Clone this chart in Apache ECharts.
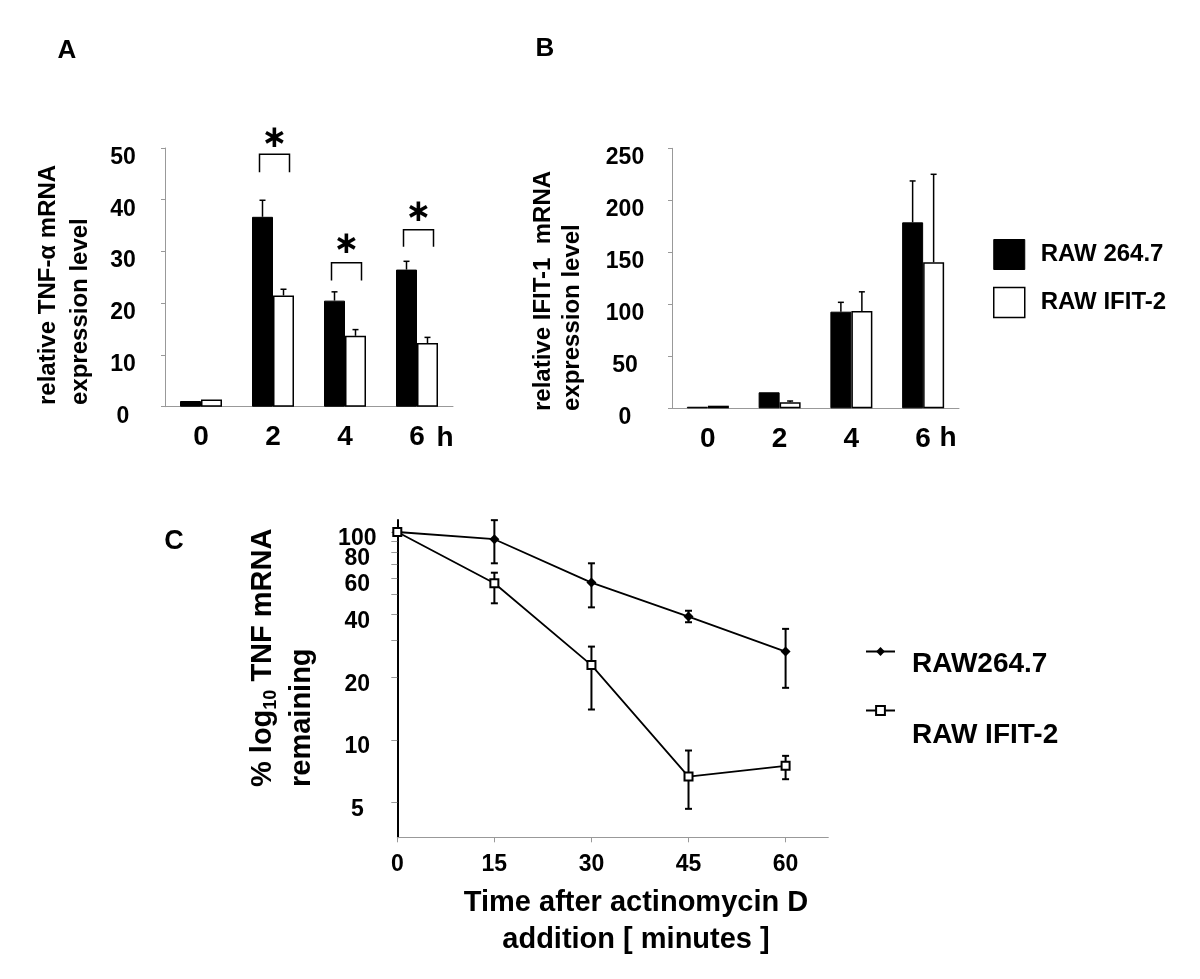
<!DOCTYPE html>
<html><head><meta charset="utf-8">
<script src="https://cdn.jsdelivr.net/npm/echarts@6/dist/echarts.min.js"></script>
<style>html,body{margin:0;padding:0;background:#fff;}#c{width:1200px;height:979px;}</style>
</head><body><div id="c"></div>
<script>
const FONT = '"Liberation Sans", Arial, Helvetica, sans-serif';
// ---- Panel A : relative TNF-alpha mRNA ----
const hours = ['0', '2', '4', '6'];
const tnfRaw = [1.1, 36.7, 20.5, 26.5];
const tnfRawErrTop = [null, 39.9, 22.2, 28.1];
const tnfIfit = [1.4, 21.5, 13.7, 12.3];
const tnfIfitErrTop = [null, 22.7, 14.9, 13.4];
const sigCategory = [1, 2, 3];
const sigBracketTop = [48.8, 27.8, 34.2];
const sigBracketLeg = [45.3, 24.4, 30.9];
const sigStarLevel = [52.1, 31.7, 37.8];
// ---- Panel B : relative IFIT-1 mRNA ----
const ifitRaw = [1.5, 15.4, 92.9, 178.8];
const ifitRawErrTop = [null, null, 101.9, 218.6];
const ifitIfit = [2.5, 5.8, 93.6, 140.4];
const ifitIfitErrTop = [null, 7.0, 112, 225];
// ---- Panel C : TNF mRNA decay ----
const minutes = [0, 15, 30, 45, 60];
const decayRaw = [100, 92.3, 57.1, 39.2, 26.6];
const decayRawHi = [null, 114, 70.7, 41.8, 34.2];
const decayRawLo = [null, 70.7, 43.4, 36.8, 17.8];
const decayIfit = [100, 56.7, 22.9, 6.66, 7.5];
const decayIfitHi = [null, 63.7, 28.1, 8.89, 8.38];
const decayIfitLo = [null, 45.4, 14.0, 4.66, 6.47];
const logTickValues = [5, 10, 20, 30, 40, 50, 60, 70, 80, 90, 100];
const logLabelValues = [5, 10, 20, 40, 60, 80, 100];
const minuteTicks = [0, 15, 30, 45, 60];

const L = Math.log10;
const BAR_W = 21;
const C_MIN = L(3.4), C_MAX = L(114.2);

function upErr(offset) {
  return function (params, api) {
    const base = api.coord([api.value(0), api.value(1)]);
    const top = api.coord([api.value(0), api.value(2)]);
    const x = base[0] + offset;
    return { type: 'group', children: [
      { type: 'line', shape: { x1: x, y1: base[1], x2: x, y2: top[1] }, style: { stroke: '#000', lineWidth: 1.5 } },
      { type: 'line', shape: { x1: x - 3, y1: top[1], x2: x + 3, y2: top[1] }, style: { stroke: '#000', lineWidth: 1.5 } }
    ]};
  };
}
function errData(errs, vals) {
  const out = [];
  errs.forEach((e, i) => { if (e != null) out.push([i, vals[i], e]); });
  return out;
}
function bothErr(params, api) {
  const hi = api.coord([api.value(0), api.value(1)]);
  const lo = api.coord([api.value(0), api.value(2)]);
  const x = hi[0];
  const st = { stroke: '#000', lineWidth: 2 };
  return { type: 'group', children: [
    { type: 'line', shape: { x1: x, y1: hi[1], x2: x, y2: lo[1] }, style: st },
    { type: 'line', shape: { x1: x - 3.5, y1: hi[1], x2: x + 3.5, y2: hi[1] }, style: st },
    { type: 'line', shape: { x1: x - 3.5, y1: lo[1], x2: x + 3.5, y2: lo[1] }, style: st }
  ]};
}
function logErrData(hi, lo) {
  const out = [];
  minutes.forEach((m, i) => { if (hi[i] != null) out.push([m, L(hi[i]), L(lo[i])]); });
  return out;
}
function bracket(params, api) {
  const top = api.coord([api.value(0), api.value(1)]);
  const leg = api.coord([api.value(0), api.value(2)]);
  const star = api.coord([api.value(0), api.value(3)]);
  const cx = top[0] + 1.5;
  return { type: 'group', children: [
    { type: 'polyline', shape: { points: [[cx - 15, leg[1]], [cx - 15, top[1]], [cx + 15, top[1]], [cx + 15, leg[1]]] },
      style: { stroke: '#000', lineWidth: 1.5, fill: null } },
    { type: 'text', x: cx, y: star[1] + 2, style: { text: '\u2217', font: 'bold 31px "DejaVu Sans"', fill: '#000', align: 'center', verticalAlign: 'middle' } }
  ]};
}

const grayAxis = { lineStyle: { color: '#999', width: 1 } };
const grayTick = { length: 4, lineStyle: { color: '#999' } };
function catAxis(idx) {
  return { type: 'category', gridIndex: idx, data: hours, axisLine: grayAxis, axisTick: grayTick,
    axisLabel: { margin: 17, fontSize: 28, fontWeight: 'bold', color: '#000', fontFamily: FONT } };
}
function valAxis(idx, max, interval, margin) {
  return { type: 'value', gridIndex: idx, min: 0, max: max, interval: interval, splitLine: { show: false },
    axisLine: { show: true, lineStyle: { color: '#999', width: 1 } }, axisTick: { show: true, length: 4, lineStyle: { color: '#999' } },
    axisLabel: { margin: margin, align: 'center', verticalAlign: 'top', lineHeight: 19, hideOverlap: false,
      fontSize: 23, fontWeight: 'bold', color: '#000', fontFamily: FONT } };
}

const txt = (x, y, text, size, extra) => Object.assign({ type: 'text', x: x, y: y,
  style: { text: text, font: 'bold ' + size + 'px ' + FONT, fill: '#000', align: 'center', verticalAlign: 'middle' } }, extra || {});
const vtxt = (x, y, text, size, rich) => ({ type: 'text', x: x, y: y, rotation: Math.PI / 2,
  style: { text: text, font: 'bold ' + size + 'px ' + FONT, fill: '#000', align: 'left', verticalAlign: 'middle', rich: rich } });

function legendC(name, top, gap) {
  return { orient: 'vertical', left: 865, top: top, padding: 0, itemWidth: 29, itemHeight: 11, selectedMode: false,
    data: [name],
    formatter: n => '{e| }\n{t|' + n + '}',
    textStyle: { color: '#000', rich: {
      e: { fontSize: 10, lineHeight: gap },
      t: { fontSize: 28, lineHeight: 28, fontWeight: 'bold', color: '#000', fontFamily: FONT, padding: [0, 0, 0, 12] } } } };
}

const option = {
  animation: false,
  backgroundColor: '#fff',
  grid: [
    { left: 165, top: 148, width: 288, height: 258.7 },
    { left: 672, top: 148.3, width: 287, height: 260 },
    { left: 397.3, top: 520, width: 431, height: 317.3 }
  ],
  xAxis: [
    catAxis(0), catAxis(1),
    { type: 'value', gridIndex: 2, min: 0, max: 66.6, splitLine: { show: false },
      axisLine: { lineStyle: { color: '#999', width: 1 } },
      axisTick: { show: true, length: 5, lineStyle: { color: '#999' }, customValues: minuteTicks },
      axisLabel: { customValues: minuteTicks, margin: 16, fontSize: 23, fontWeight: 'bold', color: '#000', fontFamily: FONT } }
  ],
  yAxis: [
    valAxis(0, 50, 10, 42), valAxis(1, 250, 50, 47),
    { type: 'value', gridIndex: 2, min: C_MIN, max: C_MAX, splitLine: { show: false },
      axisLine: { show: true, lineStyle: { color: '#000', width: 2 } },
      axisTick: { show: true, length: 6, lineStyle: { color: '#999' }, customValues: logTickValues.map(L) },
      axisLabel: { customValues: logLabelValues.map(L).concat([C_MAX]),
        formatter: v => (v > 2.01 ? '' : String(Math.round(Math.pow(10, v)))),
        margin: 40, align: 'center', verticalAlign: 'top', lineHeight: 14, hideOverlap: false,
        fontSize: 23, fontWeight: 'bold', color: '#000', fontFamily: FONT } }
  ],
  legend: [
    { orient: 'vertical', left: 993, top: 239, padding: 0, itemWidth: 31, itemHeight: 30, itemGap: 16.7,
      selectedMode: false,
      textStyle: { fontSize: 24, fontWeight: 'bold', color: '#000', fontFamily: FONT, padding: [0, 0, 0, 11] },
      data: [
        { name: 'RAW 264.7', icon: 'rect', itemStyle: { color: '#000', borderColor: '#000', borderWidth: 1 } },
        { name: 'RAW IFIT-2', icon: 'rect', itemStyle: { color: '#fff', borderColor: '#000', borderWidth: 1.5 } }
      ] },
    legendC('RAW264.7', 632.5, 25),
    legendC('RAW IFIT-2', 691.5, 50)
  ],
  series: [
    // Panel C lines
    { name: 'RAW264.7', type: 'line', xAxisIndex: 2, yAxisIndex: 2, symbol: 'diamond', symbolSize: 10,
      data: minutes.map((m, i) => [m, L(decayRaw[i])]),
      lineStyle: { color: '#000', width: 1.8 }, itemStyle: { color: '#000' }, z: 3 },
    { name: 'RAW IFIT-2', type: 'line', xAxisIndex: 2, yAxisIndex: 2, symbol: 'emptyRect', symbolSize: 8,
      data: minutes.map((m, i) => [m, L(decayIfit[i])]),
      lineStyle: { color: '#000', width: 1.8 }, itemStyle: { color: '#000' }, z: 4 },
    { type: 'custom', xAxisIndex: 2, yAxisIndex: 2, renderItem: bothErr, data: logErrData(decayRawHi, decayRawLo), z: 2, silent: true },
    { type: 'custom', xAxisIndex: 2, yAxisIndex: 2, renderItem: bothErr, data: logErrData(decayIfitHi, decayIfitLo), z: 2, silent: true },
    // Panel A bars
    { name: 'RAW 264.7', type: 'bar', xAxisIndex: 0, yAxisIndex: 0, data: tnfRaw, barWidth: BAR_W, barGap: '0%',
      itemStyle: { color: '#000', borderColor: '#000', borderWidth: 1 } },
    { name: 'RAW IFIT-2', type: 'bar', xAxisIndex: 0, yAxisIndex: 0, data: tnfIfit, barWidth: BAR_W, barGap: '0%',
      itemStyle: { color: '#fff', borderColor: '#000', borderWidth: 1.5 } },
    { type: 'custom', xAxisIndex: 0, yAxisIndex: 0, renderItem: upErr(-BAR_W / 2), data: errData(tnfRawErrTop, tnfRaw), silent: true },
    { type: 'custom', xAxisIndex: 0, yAxisIndex: 0, renderItem: upErr(BAR_W / 2), data: errData(tnfIfitErrTop, tnfIfit), silent: true },
    { type: 'custom', xAxisIndex: 0, yAxisIndex: 0, renderItem: bracket, clip: false, silent: true,
      data: sigCategory.map((c, i) => [c, sigBracketTop[i], sigBracketLeg[i], sigStarLevel[i]]) },
    // Panel B bars
    { name: 'RAW 264.7', type: 'bar', xAxisIndex: 1, yAxisIndex: 1, data: ifitRaw, barWidth: BAR_W, barGap: '0%',
      itemStyle: { color: '#000', borderColor: '#000', borderWidth: 1 } },
    { name: 'RAW IFIT-2', type: 'bar', xAxisIndex: 1, yAxisIndex: 1, data: ifitIfit, barWidth: BAR_W, barGap: '0%',
      itemStyle: { color: '#fff', borderColor: '#000', borderWidth: 1.5 } },
    { type: 'custom', xAxisIndex: 1, yAxisIndex: 1, renderItem: upErr(-BAR_W / 2), data: errData(ifitRawErrTop, ifitRaw), silent: true },
    { type: 'custom', xAxisIndex: 1, yAxisIndex: 1, renderItem: upErr(BAR_W / 2), data: errData(ifitIfitErrTop, ifitIfit), silent: true }
  ],
  graphic: [
    txt(67, 51, 'A', 26), txt(545, 49, 'B', 26), txt(174, 542, 'C', 27),
    txt(445, 438, 'h', 28), txt(948, 438, 'h', 28),
    vtxt(48, 405, 'relative TNF-\u03b1 mRNA', 24), vtxt(80, 405, 'expression level', 24),
    vtxt(543, 411, 'relative IFIT-1  mRNA', 24), vtxt(572, 411, 'expression level', 24),
    vtxt(263, 787, '{a|% log}{s|10}{a| TNF mRNA}', 29, {
      a: { font: 'bold 29px ' + FONT, fill: '#000', lineHeight: 34 },
      s: { font: 'bold 18px ' + FONT, fill: '#000', lineHeight: 20, verticalAlign: 'bottom' } }),
    vtxt(302, 787, 'remaining', 29),
    { type: 'text', x: 636, y: 921, style: { text: 'Time after actinomycin D\naddition [ minutes ]', font: 'bold 29px ' + FONT,
      fill: '#000', align: 'center', verticalAlign: 'middle', lineHeight: 37 } }
  ]
};
const chart = echarts.init(document.getElementById('c'), null, { renderer: 'canvas' });
chart.setOption(option);
</script></body></html>
